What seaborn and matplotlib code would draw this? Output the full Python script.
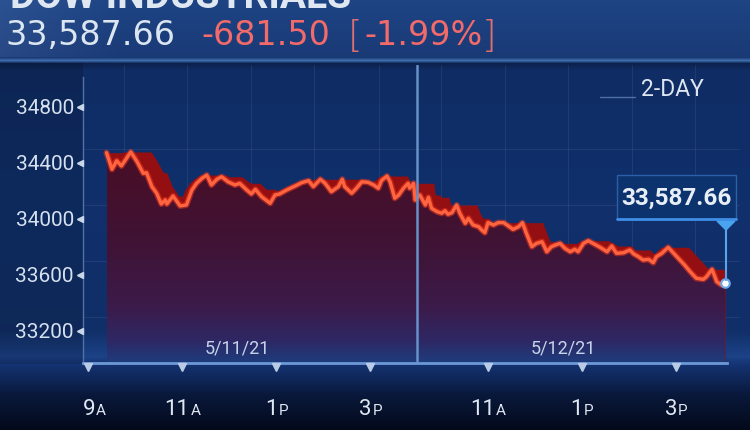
import numpy as np
import pandas as pd
import matplotlib
matplotlib.use("Agg")
import matplotlib.pyplot as plt
import matplotlib.transforms as mtransforms
from matplotlib.patches import Rectangle, Polygon, PathPatch
import seaborn as sns

sns.set_theme(style="dark")
plt.rcParams["font.family"] = ["Roboto", "DejaVu Sans"]

# ---------------- data (minutes from 9:30 on 5/11; 5/12 9:30 = 390) ----------------
minutes = [-7, 0, 6, 12, 24, 32, 40, 44, 51, 57, 63, 68, 70, 78, 87, 95, 102, 108, 115, 121,
           127, 134, 140, 148, 157, 163, 172, 178, 183, 191, 202, 208, 214, 223, 234, 242, 251,
           257, 266, 272, 280, 289, 294, 297, 306, 312, 319, 327, 334, 340, 344, 351, 355, 361,
           366, 372, 378, 380, 385, 387,
           393, 400, 404, 408, 415, 421, 425, 429, 434, 440, 444, 451, 455, 461, 468, 472, 476,
           480, 487, 493, 500, 506, 512, 519, 524, 529, 536, 542, 549, 555, 561, 566, 572, 578,
           585, 591, 595, 602, 608, 614, 623, 632, 638, 644, 653, 661, 666, 672, 678, 685, 691,
           695, 702, 710, 717, 725, 731, 738, 746, 755, 759, 766, 772, 778, 783]
dow = [34474, 34355, 34416, 34379, 34479, 34409, 34326, 34331, 34231, 34184, 34107, 34136, 34107,
       34164, 34093, 34100, 34207, 34255, 34291, 34314, 34243, 34284, 34302, 34266, 34243, 34255,
       34207, 34179, 34212, 34159, 34112, 34171, 34179, 34207, 34236, 34259, 34274, 34231, 34284,
       34255, 34195, 34231, 34284, 34231, 34184, 34219, 34266, 34262, 34243, 34219, 34274, 34307,
       34266, 34148, 34171, 34219, 34255, 34219, 34255, 34136,
       34171, 34100, 34155, 34076, 34052, 34041, 34059, 34034, 34045, 34100, 34041, 33969, 34005,
       33957, 33945, 33921, 33902, 33974, 33957, 33974, 33974, 33950, 33926, 33945, 33974, 33898,
       33802, 33826, 33838, 33766, 33802, 33814, 33826, 33791, 33766, 33784, 33766, 33826, 33845,
       33826, 33798, 33766, 33807, 33755, 33759, 33779, 33750, 33731, 33707, 33712, 33688, 33731,
       33755, 33798, 33755, 33707, 33671, 33624, 33576, 33569, 33588, 33641, 33552, 33529, 33543]

x_tick_pos = [-30, 90, 210, 330, 480, 600, 720]
x_tick_num = ["9", "11", "1", "3", "11", "1", "3"]
x_tick_suffix = ["A", "A", "P", "P", "A", "P", "P"]
y_ticks = [33200, 33600, 34000, 34400, 34800]
day_labels = ["5/11/21", "5/12/21"]
day_label_pos = [160, 576]
day_break = 390
title = "DOW INDUSTRIALS"
last_text = "33,587.66"
change_text = "-681.50"
pct_text = "-1.99%"
range_text = "2-DAY"

W, H = 750, 430
fig = plt.figure(figsize=(7.5, 4.3), dpi=100)

# ---------------- background canvas (pixel coordinates) ----------------
bg = fig.add_axes([0, 0, 1, 1])
ys = np.arange(H)
stops_y = [0, 57, 60, 63, 70, 200, 330, 356, 365, 395, 430]
R = np.interp(ys, stops_y, [30, 26, 62, 12, 15, 16, 17, 28, 20, 9, 4])
G = np.interp(ys, stops_y, [68, 58, 108, 34, 44, 48, 47, 66, 50, 24, 9])
B = np.interp(ys, stops_y, [132, 118, 172, 78, 100, 108, 104, 135, 112, 58, 26])
img = np.stack([np.repeat(c[:, None], W, axis=1) for c in (R, G, B)], axis=2)
xs = np.arange(W)
left_fac = np.where(xs < 83, 0.85, 1.0)
rows = (ys > 62) & (ys < 364)
img[rows] = img[rows] * left_fac[None, :, None]
hl = np.clip(1 - xs / 120.0, 0, 1) * 14
img[:57] = img[:57] + hl[None, :, None]
img = np.clip(img, 0, 255) / 255.0
bg.imshow(img, extent=[0, W, H, 0], aspect="auto", zorder=0)
bg.set_xlim(0, W)
bg.set_ylim(H, 0)
bg.axis("off")

# header texts
bg.text(10, 8, title, fontsize=28, fontweight="bold", color="#dfe8f2",
        va="baseline", ha="left", family=["Roboto", "DejaVu Sans"])
bg.text(5, 45, last_text, fontsize=24, color="#dbe6f1", va="baseline", ha="left",
        family=["DejaVu Sans"])
bg.text(201, 45, change_text, fontsize=24, color="#f26a6a", va="baseline", ha="left",
        family=["DejaVu Sans"])
bg.text(348, 47, "[", fontsize=27, color="#e0706f", va="baseline", ha="left",
        family=["DejaVu Sans"], fontweight="light")
bg.text(364, 45, pct_text, fontsize=24, color="#f26a6a", va="baseline", ha="left",
        family=["DejaVu Sans"])
bg.text(496, 47, "]", fontsize=27, color="#e0706f", va="baseline", ha="right",
        family=["DejaVu Sans"], fontweight="light")

# 2-DAY selector
bg.text(641, 89, range_text, fontsize=16.5, color="#dde6f1", va="center", ha="left")
bg.plot([600, 635], [97, 97], color="#4d70a6", lw=1)

# ---------------- main axes ----------------
ax = fig.add_axes([83 / W, (H - 363) / H, (740 - 83) / W, (363 - 65) / H])
ax.patch.set_alpha(0)
xmin, xmax = -37, 801.7
ylo, yhi = 32971.4, 35100
ax.set_xlim(xmin, xmax)
ax.set_ylim(ylo, yhi)

# faint grid
for gx in [15, 96, 177, 258, 341, 420, 502, 582, 664, 744]:
    ax.axvline(gx, color="white", alpha=0.07, lw=0.8, zorder=0.5)
for gy in [34500, 34100, 33700, 33300]:
    ax.axhline(gy, color="white", alpha=0.07, lw=0.8, zorder=0.5)

# extruded dark red band (rolling max of the series)
xf = np.arange(minutes[0], minutes[-1] + 1)
yf = np.interp(xf, minutes, dow)
band = pd.Series(yf).rolling(36, center=True, min_periods=1).max().shift(8).bfill().values
band = np.maximum(band, yf)
ax.fill_between(xf, band, ylo, color="#940f12", lw=0, zorder=1)

# gradient area under the line
coll = ax.fill_between(minutes, dow, ylo, color="none", lw=0)
path = coll.get_paths()[0]
patch = PathPatch(path, transform=ax.transData, facecolor="none", edgecolor="none")
ax.add_patch(patch)
stops = [0.0, 0.45, 0.75, 0.9, 1.0]
cols = np.array([[74, 13, 36], [64, 19, 52], [60, 27, 74], [46, 40, 100], [30, 60, 125]]) / 255.0
tt = np.linspace(0, 1, 256)
grad = np.stack([np.interp(tt, stops, cols[:, i]) for i in range(3)], axis=1)[:, None, :]
im = ax.imshow(grad, extent=[minutes[0], minutes[-1], ylo, 34560], aspect="auto",
               origin="upper", zorder=2, interpolation="bilinear")
im.set_clip_path(patch)
ax.set_xlim(xmin, xmax)
ax.set_ylim(ylo, yhi)

# line (glow + core)
sns.lineplot(x=minutes, y=dow, ax=ax, color="#e8341c", lw=4.4, alpha=0.55, zorder=4,
             estimator=None, sort=False)
sns.lineplot(x=minutes, y=dow, ax=ax, color="#ff6440", lw=2.4, zorder=5,
             estimator=None, sort=False)

# day divider
ax.axvline(day_break, color="#6790c8", lw=1.8, zorder=6)

# last point marker
ax.scatter([minutes[-1]], [dow[-1]], s=38, color="white", edgecolor="#6ea6e6",
           linewidth=1.5, zorder=8)

# spines
for s in ["top", "right"]:
    ax.spines[s].set_visible(False)
ax.spines["bottom"].set_color("#6d9ad6")
ax.spines["bottom"].set_linewidth(2)
ax.spines["bottom"].set_bounds(xmin, 785)
ax.spines["left"].set_color("#4f72a8")
ax.spines["left"].set_linewidth(1)
ax.spines["left"].set_bounds(ylo, 35014)

# y ticks
ax.set_yticks(y_ticks)
ax.set_yticklabels([str(v) for v in y_ticks], fontsize=15, color="#d5e1ef")
ax.tick_params(axis="y", length=0, pad=6.5)
ax.tick_params(axis="x", length=0)
ax.set_xticks([])
ax.set_xlabel("")
ax.set_ylabel("")
ax.grid(False)
tr_y = mtransforms.blended_transform_factory(ax.transAxes, ax.transData)
for v in y_ticks:
    ax.plot([-0.0045], [v], marker="<", ms=5, color="#c9d7ea", transform=tr_y,
            clip_on=False, zorder=9)

# x ticks (triangles + two-size labels, centred on the tick)
tr_x = mtransforms.blended_transform_factory(ax.transData, ax.transAxes)
xlabels = []
for p, n, s in zip(x_tick_pos, x_tick_num, x_tick_suffix):
    ax.plot([p], [-0.012], marker="v", ms=6, color="#b9cbe6", transform=tr_x,
            clip_on=False, zorder=9)
    tn = ax.text(p, -0.1745, n, fontsize=16, color="#dfe7f2", ha="right", va="baseline",
                 transform=tr_x, clip_on=False)
    ts = ax.text(p + 1.0, -0.1745, s, fontsize=11, color="#dfe7f2", ha="left", va="baseline",
                 transform=tr_x, clip_on=False)
    xlabels.append((p, tn, ts))

# day labels
for p, lab in zip(day_label_pos, day_labels):
    ax.text(p, 0.05, lab, fontsize=13, color="#c5d4ea", ha="center", va="center",
            transform=tr_x, zorder=9)

# ---------------- callout box ----------------
bg2 = fig.add_axes([0, 0, 1, 1])
bg2.set_xlim(0, W)
bg2.set_ylim(H, 0)
bg2.axis("off")
bg2.patch.set_alpha(0)
bg2.add_patch(Rectangle((617, 175), 119, 44, facecolor="#0d336f", edgecolor="#2c5fa8", lw=1))
bg2.plot([617, 736], [219, 219], color="#3f8fe6", lw=2)
bg2.text(676.5, 198, last_text, fontsize=17.5, fontweight="bold", color="#e8eef6",
         ha="center", va="center", family=["Roboto", "DejaVu Sans"])
bg2.add_patch(Polygon([(717, 221), (735, 221), (726, 230)], closed=True, color="#49a3ef"))
bg2.plot([726, 726], [230, 280], color="#5aa3ea", lw=1.5)

# centre the two-part x labels on their ticks
fig.canvas.draw()
rend = fig.canvas.get_renderer()
px_per_min = ax.transData.transform((1, 0))[0] - ax.transData.transform((0, 0))[0]
for i, (p, tn, ts) in enumerate(xlabels):
    b1 = tn.get_window_extent(rend)
    b2 = ts.get_window_extent(rend)
    centre = (b1.x0 + b2.x1) / 2
    target = ax.transData.transform((p, 0))[0] + (6 if i == 0 else 0)
    d = (target - centre) / px_per_min
    tn.set_x(tn.get_position()[0] + d)
    ts.set_x(ts.get_position()[0] + d)

fig.savefig("out.png", dpi=100)
